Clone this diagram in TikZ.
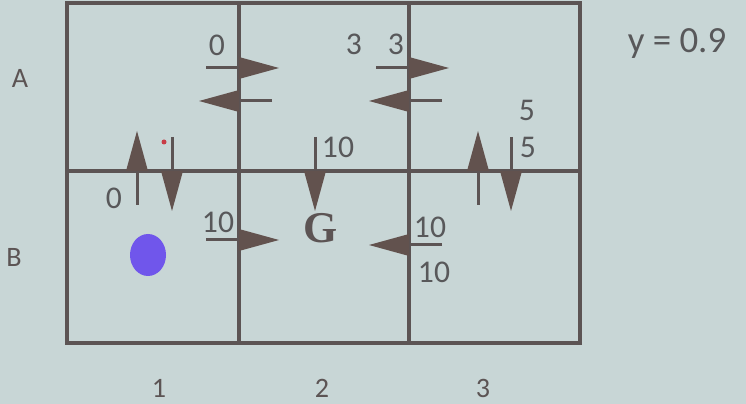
\documentclass[tikz,border=0pt]{standalone}
\usepackage{fontspec}
\setmainfont{Carlito}
\newfontfamily\goalfont{Liberation Serif}
\definecolor{slide}{RGB}{200,214,214}
\definecolor{gridc}{RGB}{92,84,84}
\definecolor{arrowc}{RGB}{98,82,78}
\definecolor{numc}{RGB}{88,88,90}
\definecolor{agentc}{RGB}{112,86,235}
\definecolor{dotc}{RGB}{200,60,70}

\begin{document}
\begin{tikzpicture}[x=0.02cm, y=-0.02cm,
    every node/.style={inner sep=0pt, text=numc, font=\fontsize{18}{20}\selectfont},
    stub/.style={draw=gridc, line width=0.06cm},
    tri/.style={fill=arrowc},
    axislabel/.style={font=\fontsize{16}{18}\selectfont, text=gridc}]
  % Slide background
  \fill[slide] (0,0) rectangle (746,404);
  \useasboundingbox (0,0) rectangle (746,404);
  % Grid
  \draw[gridc, line width=0.07cm] (67,3) rectangle (580,343);
  \draw[gridc, line width=0.07cm] (239,3) -- (239,343);
  \draw[gridc, line width=0.07cm] (409,3) -- (409,343);
  \draw[gridc, line width=0.07cm] (67,171) -- (580,171);
  % Moves across vertical walls
  \foreach \bx/\yy/\d in {239/68/1, 239/101/-1, 409/68/1, 409/101/-1, 239/240/1, 409/245/-1} {
    \draw[stub] ({\bx-(\d)*33},\yy) -- (\bx,\yy);
    \fill[tri] (\bx,\yy-11) -- ({\bx+(\d)*40},\yy) -- (\bx,\yy+11) -- cycle;
  }
  % Moves across the middle wall
  \foreach \xx/\d in {137/-1, 172/1, 315/1, 478/-1, 511/1} {
    \draw[stub] (\xx,{171-(\d)*34}) -- (\xx,171);
    \fill[tri] (\xx-11,171) -- (\xx,{171+(\d)*40}) -- (\xx+11,171) -- cycle;
  }
  % Rewards
  \node (ra) at (217,45) {0};
  \node (rb) at (354,44) {3};
  \node (rc) at (396,44) {3};
  \node (rd) at (527,110) {5};
  \node (re) at (528,147) {5};
  \node (rf) at (338,147) {10};
  \node (rg) at (114,198) {0};
  \node (rh) at (218,222) {10};
  \node (ri) at (430,227) {10};
  \node (rj) at (434,272) {10};
  % Goal and agent
  \node[text=gridc, font=\goalfont\fontsize{25}{27}\selectfont\bfseries] (goal) at (321,228) {G};
  \fill[agentc] (148,255) ellipse (18 and 21);
  \fill[dotc] (164,142) circle (2.5);
  % Discount
  \node[anchor=base, font=\fontsize{21}{23}\selectfont] (gamma) at (677,53) {y = 0.9};
  % Row and column labels
  \node[axislabel] (rowa) at (20,78) {A};
  \node[axislabel] (rowb) at (14,257) {B};
  \foreach \cx/\t in {159/1, 322/2, 483/3}
    \node[axislabel] (col\t) at (\cx,388) {\t};
\end{tikzpicture}
\end{document}
